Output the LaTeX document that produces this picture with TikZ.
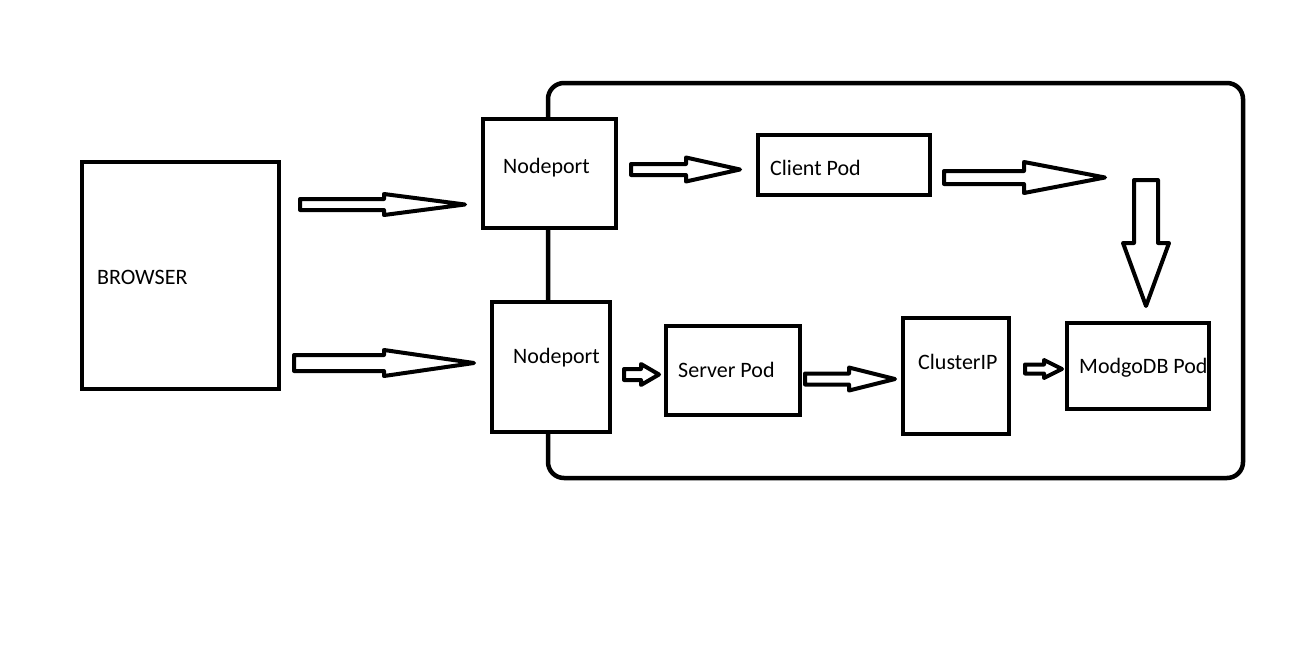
\documentclass[tikz,border=0pt]{standalone}
\usepackage{fontspec}
\setmainfont{Carlito}
\begin{document}
\begin{tikzpicture}[x=1pt,y=-1pt,
  box/.style={draw, line width=4.5pt, fill=white, rectangle, inner sep=0pt},
  lbl/.style={anchor=base west, inner sep=0pt, font=\fontsize{22}{26}\selectfont},
  blk/.style={draw, line width=4pt, line join=round, fill=white}]
\useasboundingbox[fill=white] (0,0) rectangle (1306,648);
% cluster
\draw[line width=4.5pt, rounded corners=16pt] (548,83) rectangle (1243,478);
% boxes (corner to corner)
\newcommand\boxat[5]{\node[box, minimum width=#4-#2, minimum height=#5-#3] (#1) at ({(#2+#4)/2},{(#3+#5)/2}) {};}
\boxat{browser}{82}{162}{279}{389}
\boxat{np1}{483}{119}{616}{228}
\boxat{np2}{492}{302}{610}{432}
\boxat{client}{758}{135}{930}{195}
\boxat{server}{666}{326}{800}{415}
\boxat{cip}{903}{318}{1009}{434}
\boxat{mongo}{1067}{323}{1209}{409}
% labels
\node[lbl] (browserT) at (97,284) {BROWSER};
\node[lbl] (np1T) at (503,173) {Nodeport};
\node[lbl] (np2T) at (513,363) {Nodeport};
\node[lbl] (clientT) at (770,175) {Client Pod};
\node[lbl] (serverT) at (678,377) {Server Pod};
\node[lbl] (cipT) at (918,369) {ClusterIP};
\node[lbl] (mongoT) at (1079,373) {ModgoDB Pod};
% block arrows: start x, head base x, tip x, center y, shaft half, head half
\newcommand\harrow[6]{\draw[blk] (#1,#4-#5) -- (#2,#4-#5) -- (#2,#4-#6) -- (#3,#4) -- (#2,#4+#6) -- (#2,#4+#5) -- (#1,#4+#5) -- cycle;}
\harrow{300}{384}{465}{204.5}{5.5}{10.5}
\harrow{294}{384}{474}{363}{8}{13}
\harrow{631}{686}{740}{169.5}{5.5}{12}
\harrow{944}{1024}{1105}{177.5}{6.5}{15.5}
\harrow{624}{641}{659}{374.5}{5.5}{10.5}
\harrow{805}{849}{895}{379}{5.5}{11.5}
\harrow{1025}{1044}{1062}{369}{4.5}{9}
% vertical arrow
\draw[blk] (1134,180) -- (1158,180) -- (1158,243) -- (1169,243) -- (1146,306) -- (1123,243) -- (1134,243) -- cycle;
\end{tikzpicture}
\end{document}
